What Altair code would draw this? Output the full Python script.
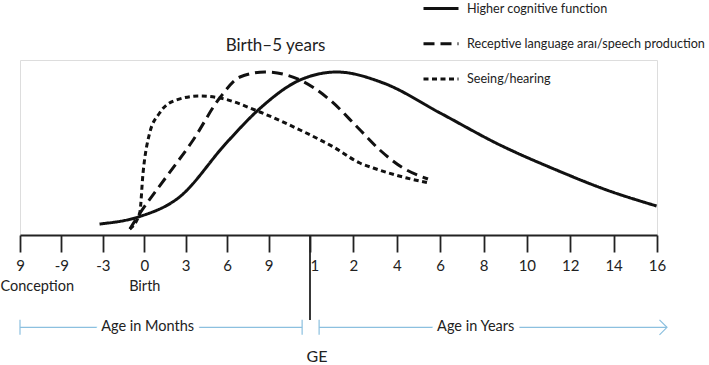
import altair as alt
import pandas as pd

# Axis: one slot per tick, slot 7 is the GE break between months and years
tick_labels = ["9", "-9", "-3", "0", "3", "6", "9", "1", "2", "4", "6", "8", "10", "12", "14", "16"]
sub_index = [0, 3]
sub_labels = ["Conception", "Birth"]
ge_index = 7

series_names = [
    "Higher cognitive function",
    "Receptive language araı/speech production",
    "Seeing/hearing",
]

# Relative development curves (x in tick slots, y in relative level)
higher_x = [1.92, 2.85, 3.85, 4.98, 5.75, 6.76, 7.62, 8.69, 10.0, 11.38, 12.68, 13.84, 14.99]
higher_y = [11, 18, 38, 92, 125, 155, 163, 152, 122, 90, 65, 45, 29]

lang_x = [2.65, 2.85, 3.53, 4.18, 4.82, 5.31, 5.91, 6.76, 7.46, 8.11, 8.61, 9.11, 9.72]
lang_y = [6, 19, 58, 95, 137, 158, 163, 155, 135, 107, 85, 68, 56]

sense_x = [2.65, 2.89, 2.97, 3.13, 3.37, 3.77, 4.34, 4.82, 5.79, 6.76, 7.54, 8.15, 8.46, 9.23, 9.76]
sense_y = [6, 22, 62, 102, 122, 135, 139, 137, 123, 105, 88, 72, 67, 57, 52]

# Age spans drawn under the axis
span_labels = ["Age in Months", "Age in Years"]
span_start = [0.0, 7.21]
span_end = [6.81, 15.23]
span_mid = [3.08, 10.82]

FONT = "Lato"
INK = "#111111"
TEXT = "#222222"
BLUE = "#8cc0df"

rows = []
for name, xs, ys in zip(series_names, [higher_x, lang_x, sense_x], [higher_y, lang_y, sense_y]):
    for i, (xv, yv) in enumerate(zip(xs, ys)):
        rows.append({"series": name, "pos": xv, "level": yv, "order": i})
curve_df = pd.DataFrame(rows)

label_expr = "[" + ",".join("'" + t + "'" for t in tick_labels) + "][datum.value]"
sub_expr = "{" + ",".join("'%d':'%s'" % (i, t) for i, t in zip(sub_index, sub_labels)) + "}[datum.value]"

xscale = alt.Scale(domain=[0, ge_index, len(tick_labels) - 1], range=[0, 290, 637], nice=False, zero=False)
yscale = alt.Scale(domain=[0, 175], nice=False, zero=True)

main_axis = alt.Axis(
    orient="bottom",
    values=list(range(len(tick_labels))),
    labelExpr=label_expr,
    title=None,
    grid=False,
    domainColor=TEXT,
    domainWidth=1.8,
    tickColor=TEXT,
    tickWidth=1.8,
    tickSize=17,
    labelFont=FONT,
    labelFontSize=15,
    labelColor=TEXT,
    labelPadding=6,
    labelFlush=False,
    labelOverlap=False,
    labelAlign={"condition": {"test": "datum.value == %d" % ge_index, "value": "left"}, "value": "center"},
)

sub_axis = alt.Axis(
    orient="bottom",
    values=sub_index,
    labelExpr=sub_expr,
    title=None,
    grid=False,
    domain=False,
    ticks=False,
    labelFont=FONT,
    labelFontSize=14.5,
    labelColor=TEXT,
    labelPadding=44,
    labelFlush=True,
    labelFlushOffset=20,
    labelOverlap=False,
)

dashes = [[1, 0], [11, 6], [5, 3.5]]

curves = alt.Chart(curve_df).mark_line(interpolate="monotone", strokeWidth=3, color=INK).encode(
    x=alt.X("pos:Q", scale=xscale, axis=main_axis),
    y=alt.Y("level:Q", scale=yscale, axis=None),
    order="order:Q",
    strokeDash=alt.StrokeDash(
        "series:N",
        scale=alt.Scale(domain=series_names, range=dashes),
        legend=alt.Legend(
            orient="none",
            legendX=402,
            legendY=-70.5,
            title=None,
            padding=0,
            symbolType="stroke",
            symbolSize=1225,
            symbolStrokeWidth=3,
            symbolStrokeColor=INK,
            labelFont=FONT,
            labelFontSize=12.6,
            labelColor=TEXT,
            labelOffset=7,
            rowPadding=9.3,
            labelLimit=400,
        ),
    ),
)

ge_df = pd.DataFrame({"pos": [ge_index], "label": ["GE"]})

ge_rule = alt.Chart(ge_df).mark_rule(color=TEXT, strokeWidth=1.8).encode(
    x=alt.X("pos:Q", scale=xscale, axis=sub_axis),
    y=alt.value(175),
    y2=alt.value(260),
)

ge_text = alt.Chart(ge_df).mark_text(
    font=FONT, fontSize=16, color=TEXT, dx=7, baseline="middle"
).encode(x=alt.X("pos:Q", scale=xscale, axis=None), y=alt.value(297), text="label:N")

span_df = pd.DataFrame({"label": span_labels, "start": span_start, "end": span_end, "mid": span_mid})

span_lines = alt.Chart(span_df).mark_rule(color=BLUE, strokeWidth=1.2).encode(
    x=alt.X("start:Q", scale=xscale, axis=None), x2="end:Q", y=alt.value(267.3)
)

cap_df = pd.DataFrame({"pos": [span_start[0], span_end[0], span_start[1]]})
span_caps = alt.Chart(cap_df).mark_point(
    shape="M0,-1L0,1", size=225, stroke=BLUE, strokeWidth=1.2, filled=False, opacity=1
).encode(x=alt.X("pos:Q", scale=xscale, axis=None), y=alt.value(267.3))

head_df = pd.DataFrame({"pos": [span_end[1]]})
span_head = alt.Chart(head_df).mark_point(
    shape="M-1,-1L0,0L-1,1", size=225, stroke=BLUE, strokeWidth=1.2, filled=False, opacity=1
).encode(x=alt.X("pos:Q", scale=xscale, axis=None), y=alt.value(267.3))

span_halo = alt.Chart(span_df).mark_text(
    font=FONT, fontSize=14.5, color="white", stroke="white", strokeWidth=11, baseline="middle"
).encode(x=alt.X("mid:Q", scale=xscale, axis=None), y=alt.value(267.3), text="label:N")

span_text = alt.Chart(span_df).mark_text(
    font=FONT, fontSize=14.5, color=TEXT, baseline="middle"
).encode(x=alt.X("mid:Q", scale=xscale, axis=None), y=alt.value(267.3), text="label:N")

chart = (
    alt.layer(curves, ge_rule, ge_text, span_lines, span_caps, span_head, span_halo, span_text)
    .resolve_axis(x="independent")
    .properties(
        width=637,
        height=175,
        autosize=alt.AutoSizeParams(type="none"),
        padding={"left": 20, "top": 60, "right": 52, "bottom": 130},
        title=alt.TitleParams(
            "Birth–5 years",
            anchor="middle",
            dx=-63,
            dy=75,
            offset=10,
            font=FONT,
            fontSize=17,
            fontWeight="normal",
            color=TEXT,
        ),
    )
    .configure_view(strokeWidth=0)
    .configure(background="white")
)

chart.save("out.html", embed_options={"renderer": "svg", "actions": False})
